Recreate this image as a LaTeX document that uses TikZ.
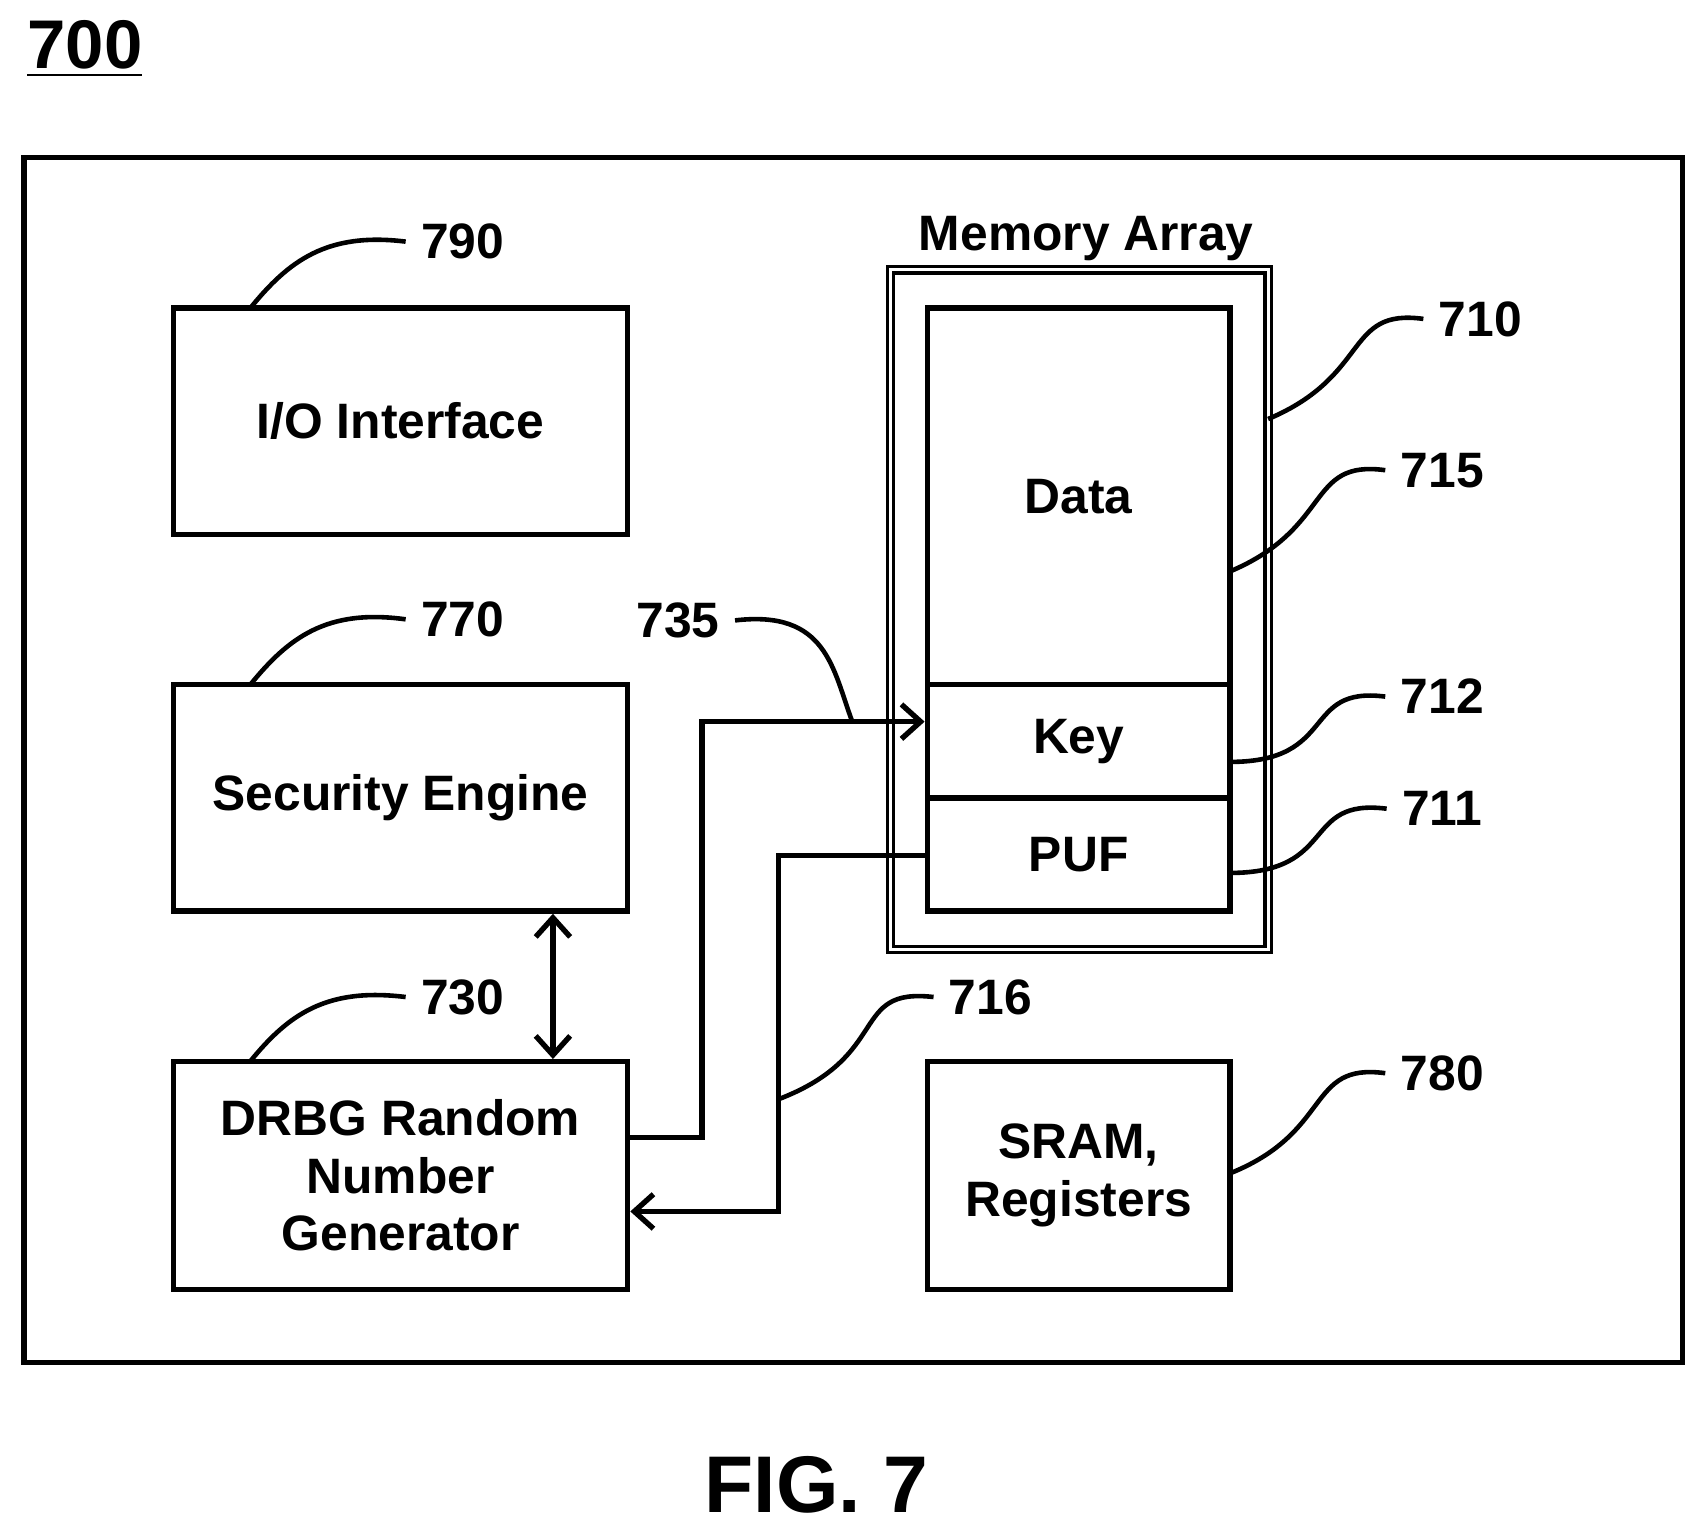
\documentclass[tikz,border=0pt]{standalone}
\usepackage{fontspec}
\setmainfont{Liberation Sans}
\usetikzlibrary{positioning,arrows.meta}
\begin{document}
\begin{tikzpicture}[x=0.01cm,y=-0.01cm,line width=1.4pt,
    blk/.style={draw, inner sep=0pt, font=\bfseries\fontsize{13}{16}\selectfont, align=center},
    num/.style={font=\bfseries\fontsize{13}{16}\selectfont},
    lead/.style={line width=1.2pt},
    arr/.style={-{Straight Barb[length=5pt,width=9pt]}}]
  \useasboundingbox (0,0) rectangle (1560,1404);
  % Title and frame
  \node[font=\bfseries\fontsize{18}{22}\selectfont] (title) at (78,45) {\underline{700}};
  \draw (22,145) rectangle (1546,1252);
  % Left column
  \node[blk, minimum width=4.17cm, minimum height=2.08cm] (io) at (368,387) {I/O Interface};
  \node[blk, minimum width=4.17cm, minimum height=2.08cm] (sec) at (368,733) {Security Engine};
  \node[blk, minimum width=4.17cm, minimum height=2.09cm] (drbg) at (368,1080) {DRBG Random\\[-1pt]Number\\[-1pt]Generator};
  % Memory array
  \draw[double, double distance=0.8pt, line width=0.8pt] (818,248) rectangle (1165,872);
  \node[num] (memlbl) at (998,219) {Memory Array};
  \node[blk, minimum width=2.78cm, minimum height=3.46cm] (data) at (991,456) {Data};
  \node[blk, minimum width=2.78cm, minimum height=1.04cm] (key) at (991,681) {Key};
  \node[blk, minimum width=2.78cm, minimum height=1.04cm] (puf) at (991,785) {PUF};
  \node[blk, minimum width=2.78cm, minimum height=2.09cm] (sram) at (991,1080) {SRAM,\\[-1pt]Registers};
  % Connectors
  \draw[{Straight Barb[length=5pt,width=9pt]}-{Straight Barb[length=5pt,width=9pt]}] (sec.south -| 508,0) -- (drbg.north -| 508,0);
  \draw[arr] (drbg.east |- 0,1045) -- (645,1045) -- (645,663) -- (key.west |- 0,663);
  \draw[arr] (puf.west |- 0,786) -- (715,786) -- (715,1113) -- (drbg.east |- 0,1113);
  % Reference numerals
  \node[num] (n790) at (425,222) {790};
  \node[num] (n770) at (425,569) {770};
  \node[num] (n730) at (425,916) {730};
  \node[num] (n735) at (623,570) {735};
  \node[num] (n716) at (910,916) {716};
  \node[num] (n710) at (1360,293) {710};
  \node[num] (n715) at (1325,432) {715};
  \node[num] (n712) at (1325,640) {712};
  \node[num] (n711) at (1325,743) {711};
  \node[num] (n780) at (1325,986) {780};
  \draw[lead] (230,283) .. controls (265,240) and (300,213) .. (n790.west);
  \draw[lead] (230,629) .. controls (265,586) and (300,559) .. (n770.west);
  \draw[lead] (230,975) .. controls (265,932) and (300,907) .. (n730.west);
  \draw[lead] (783,663) .. controls (765,615) and (760,560) .. (n735.east);
  \draw[lead] (715,1010) .. controls (820,970) and (780,907) .. (n716.west);
  \draw[lead] (1165,385) .. controls (1260,345) and (1235,283) .. (n710.west);
  \draw[lead] (1130,525) .. controls (1225,485) and (1200,422) .. (n715.west);
  \draw[lead] (1130,700) .. controls (1230,700) and (1195,630) .. (n712.west);
  \draw[lead] (1130,802) .. controls (1230,802) and (1195,733) .. (n711.west);
  \draw[lead] (1130,1078) .. controls (1225,1040) and (1200,976) .. (n780.west);
  % Caption
  \node[font=\bfseries\fontsize{21}{25}\selectfont] (fig) at (750,1364) {FIG. 7};
\end{tikzpicture}
\end{document}
